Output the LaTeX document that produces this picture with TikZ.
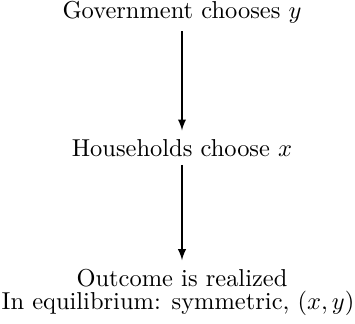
\documentclass[tikz,border=0pt]{standalone}
\begin{document}
\begin{tikzpicture}[x=0.4088pt,y=-0.4088pt,>=latex]
  \useasboundingbox (0,0) rectangle (355,323);
  \node[anchor=base] (gov) at (182,18) {Government chooses $y$};
  \node[anchor=base] (hh) at (182,156) {Households choose $x$};
  \node[anchor=base] (out) at (182,286) {Outcome is realized};
  \node[anchor=base] (eq) at (178,309) {In equilibrium: symmetric, $(x,y)$};
  \draw[->,line width=0.55pt] (gov.south) -- (hh.north);
  \draw[->,line width=0.55pt] (hh.south) -- (out.north);
\end{tikzpicture}
\end{document}
